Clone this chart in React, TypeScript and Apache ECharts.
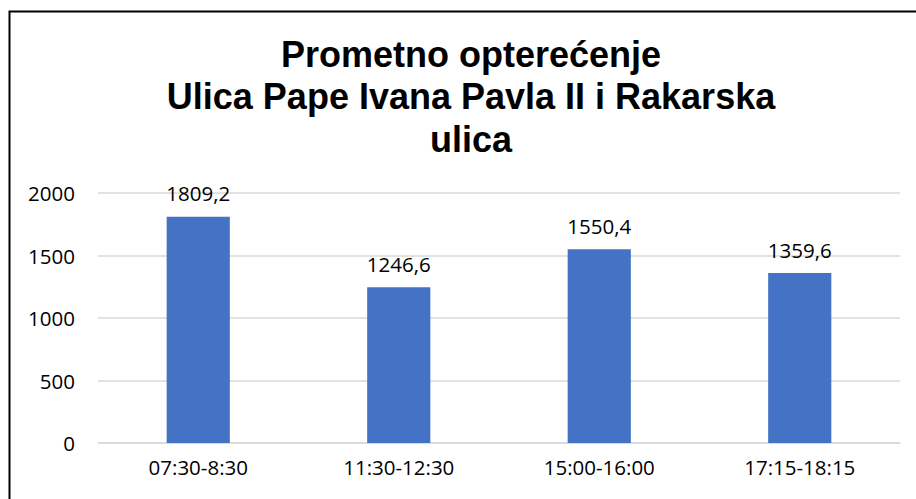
import React, { useEffect, useRef } from "react";
import * as echarts from "echarts";

const titleLines = ["Prometno opterećenje", "Ulica Pape Ivana Pavla II i Rakarska", "ulica"];
const categories = ["07:30-8:30", "11:30-12:30", "15:00-16:00", "17:15-18:15"];
const values = [1809.2, 1246.6, 1550.4, 1359.6];
const yMin = 0;
const yMax = 2000;
const yInterval = 500;

export default function App() {
  const ref = useRef<HTMLDivElement>(null);
  useEffect(() => {
    if (!ref.current) return;
    const chart = echarts.init(ref.current, undefined, { renderer: "svg" });
    chart.setOption({
      animation: false,
      backgroundColor: "#ffffff",
      title: {
        text: titleLines.join("\n"),
        left: 471,
        top: 33,
        padding: 0,
        textAlign: "center",
        textStyle: {
          fontFamily: "Liberation Sans, Arial, sans-serif",
          fontWeight: "bold",
          fontSize: 36,
          lineHeight: 42.5,
          color: "#000000",
        },
      },
      graphic: [
        {
          type: "rect",
          shape: { x: 9.5, y: 11.5, width: 1000, height: 1000 },
          style: { fill: "none", stroke: "#000000", lineWidth: 2 },
          silent: true,
        },
      ],
      grid: { left: 98, right: 16, top: 193, bottom: 56 },
      xAxis: {
        type: "category",
        data: categories,
        axisLine: { show: true, lineStyle: { color: "#d9d9d9", width: 1.5 } },
        axisTick: { show: false },
        axisLabel: {
          margin: 13,
          color: "#000000",
          fontFamily: "Open Sans, sans-serif",
          fontSize: 20.5,
        },
      },
      yAxis: {
        type: "value",
        min: yMin,
        max: yMax,
        interval: yInterval,
        axisLine: { show: false },
        axisTick: { show: false },
        splitLine: { lineStyle: { color: "#d9d9d9", width: 1.5 } },
        axisLabel: {
          margin: 23,
          color: "#000000",
          fontFamily: "Open Sans, sans-serif",
          fontSize: 20.5,
          formatter: (v: number) => String(v),
        },
      },
      series: [
        {
          type: "bar",
          data: values,
          barWidth: "31.5%",
          itemStyle: { color: "#4472C4" },
          label: {
            show: true,
            position: "top",
            distance: 13,
            color: "#000000",
            fontFamily: "Open Sans, sans-serif",
            fontSize: 20.5,
            formatter: (p: any) => String(p.value).replace(".", ","),
          },
        },
      ],
    });
    return () => chart.dispose();
  }, []);
  return (
    <div
      ref={ref}
      style={{ position: "fixed", left: 0, top: 0, width: 916, height: 499 }}
    />
  );
}
